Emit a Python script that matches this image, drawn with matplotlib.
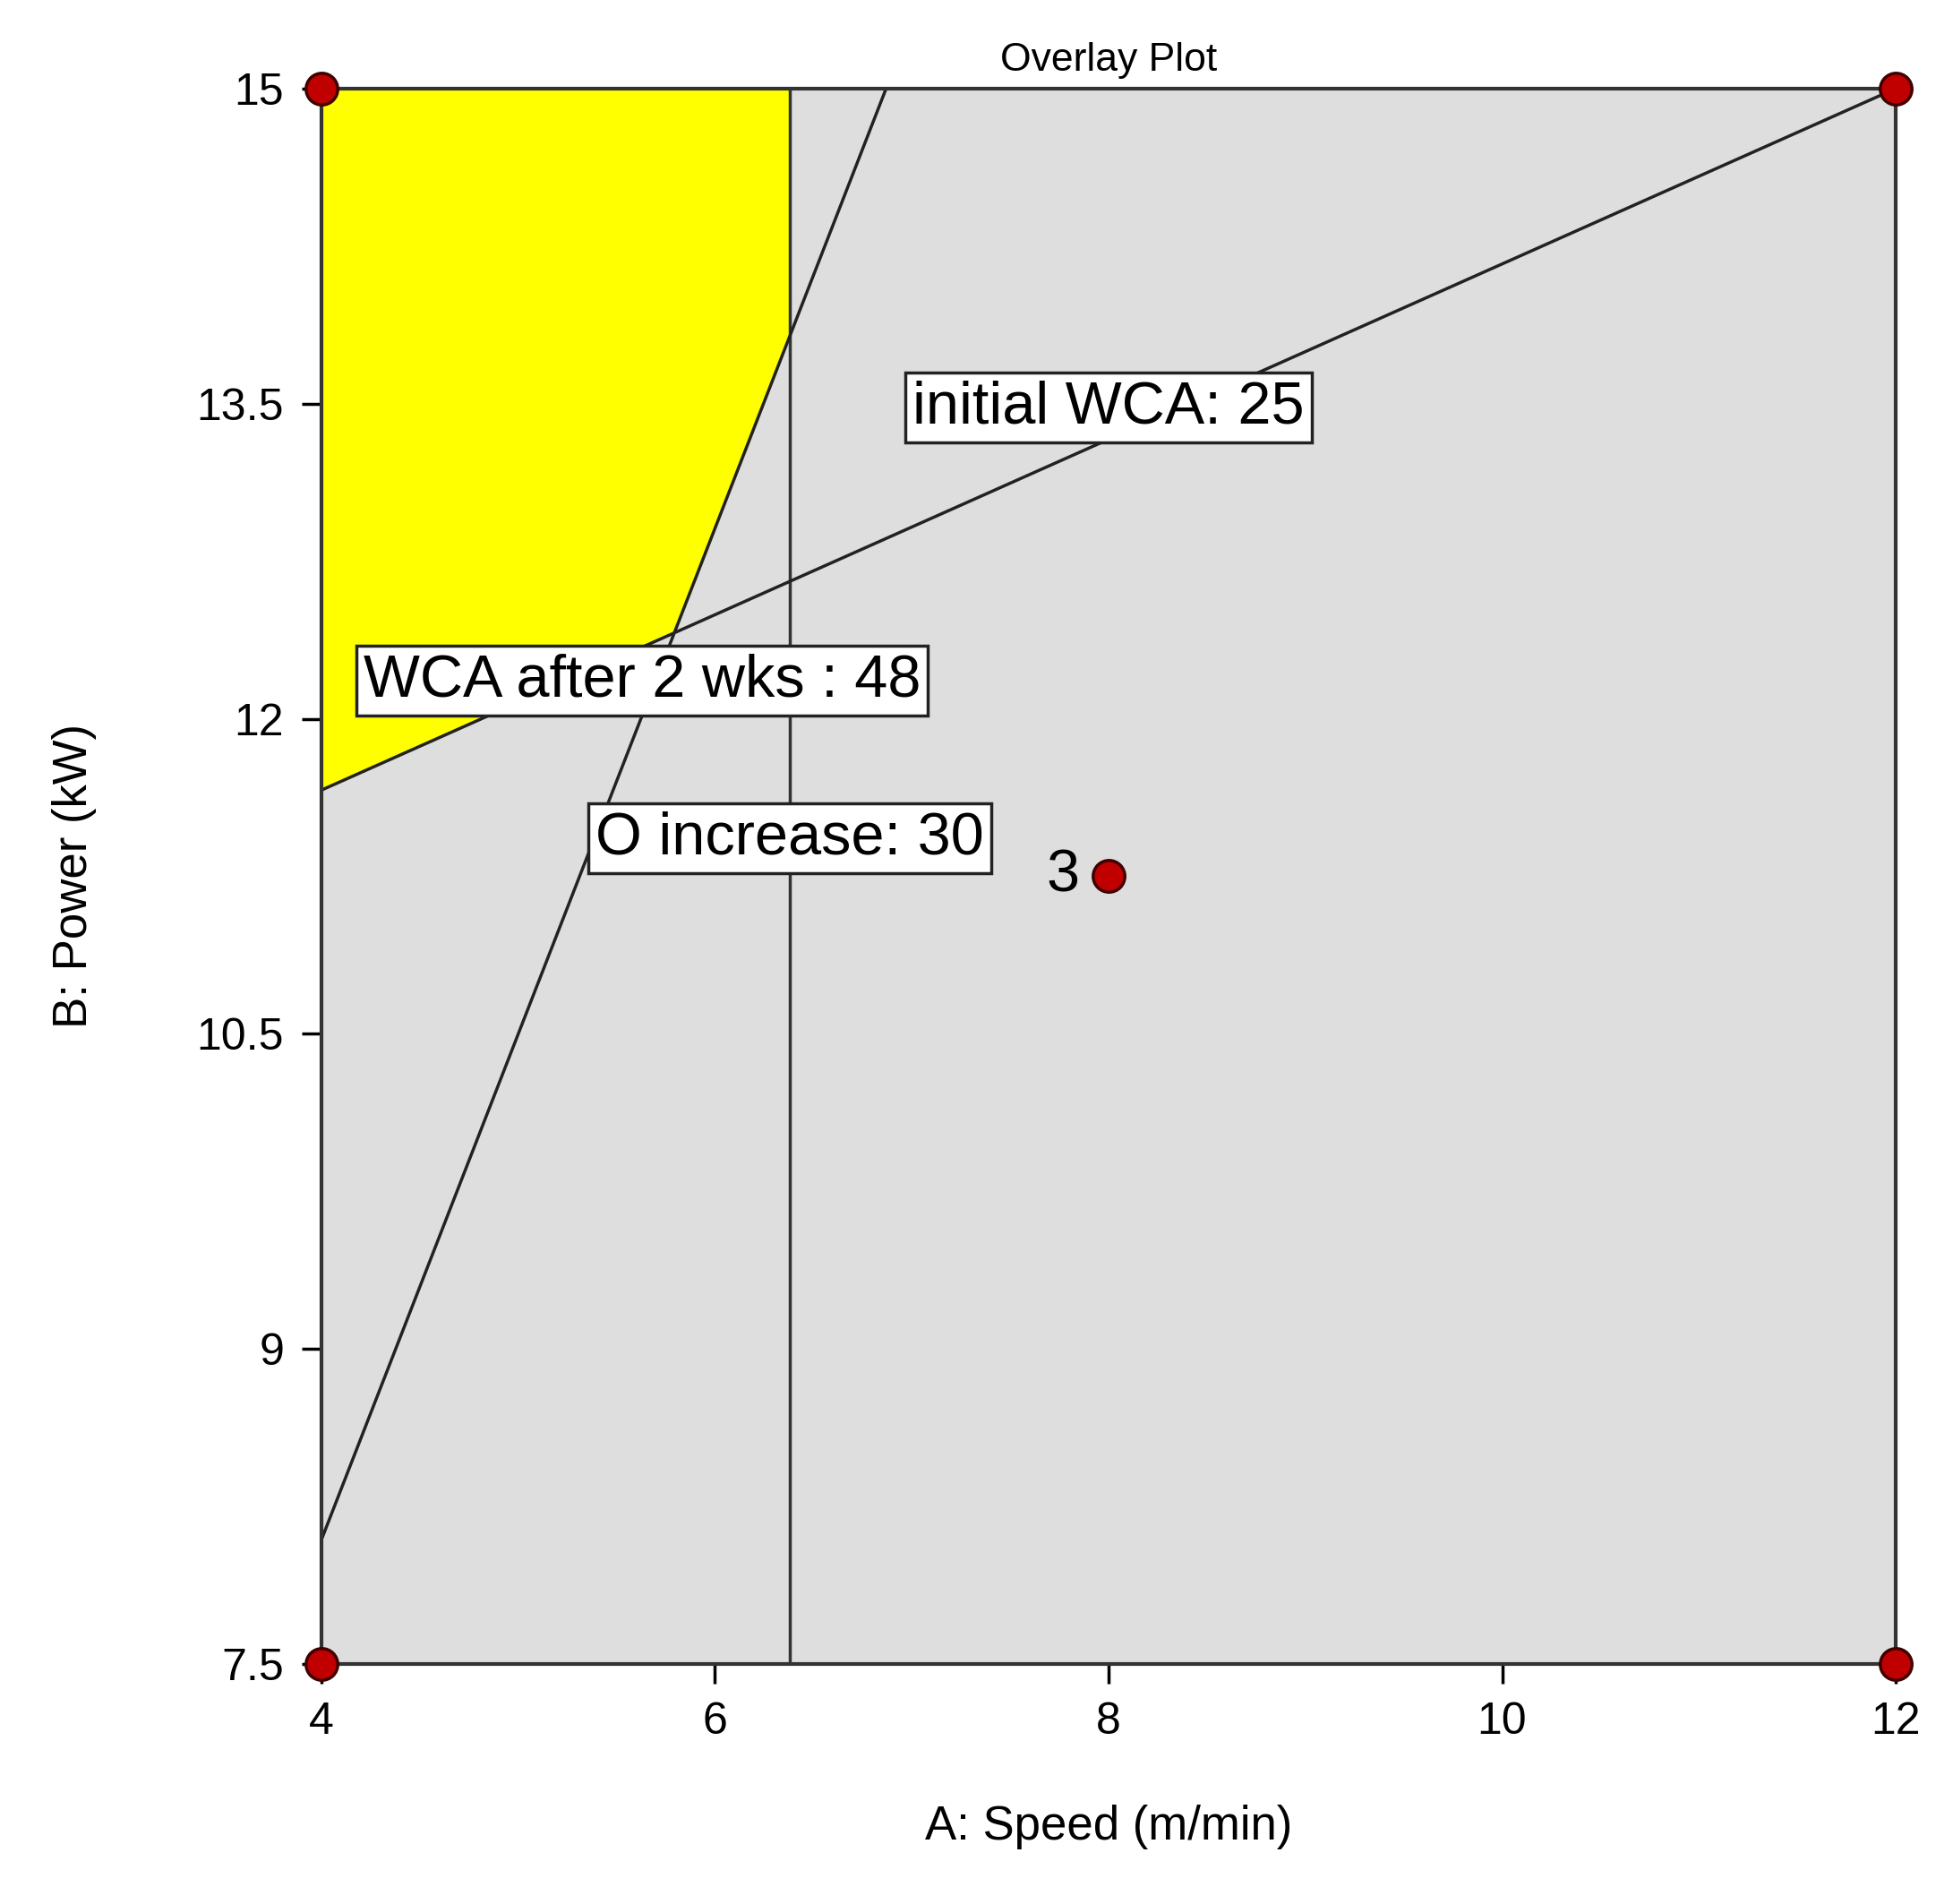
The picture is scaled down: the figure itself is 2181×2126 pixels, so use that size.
import matplotlib
matplotlib.use("Agg")
import matplotlib.pyplot as plt
import numpy as np

plt.rcParams['font.family'] = ['Liberation Sans', 'DejaVu Sans']

xlim = [4, 12]
ylim = [7.5, 15]
xticks = [4, 6, 8, 10, 12]
yticks = [7.5, 9, 10.5, 12, 13.5, 15]
ytick_labels = ["7.5", "9", "10.5", "12", "13.5", "15"]
vline_x = 6.38
steep_line = ([4, 6.87], [8.09, 15])
shallow_line = ([4, 12], [11.66, 15])
corner_x = [4, 4, 12, 12]
corner_y = [7.5, 15, 7.5, 15]
design_pt = (8, 11.25)
labels = [("initial WCA: 25", 8.0, 13.48), ("WCA after 2 wks : 48", 5.63, 12.18), ("O increase: 30", 6.38, 11.43)]

fig = plt.figure(figsize=(21.81, 21.26), dpi=100)
ax = fig.add_axes([0.1645, 0.126, 0.8062, 0.8275])
ax.set_facecolor("#dedede")
ax.set_xlim(xlim); ax.set_ylim(ylim)

def steep(x):
    (x0, x1), (y0, y1) = steep_line
    return y0 + (x - x0) * (y1 - y0) / (x1 - x0)
def shallow(x):
    (x0, x1), (y0, y1) = shallow_line
    return y0 + (x - x0) * (y1 - y0) / (x1 - x0)
xs = np.linspace(4, vline_x, 300)
lower = np.maximum(steep(xs), shallow(xs))
ax.fill_between(xs, lower, 15, color="yellow", zorder=1)

ax.axvline(vline_x, color="#333333", lw=2.5, zorder=2)
ax.plot(*steep_line, color="#222222", lw=2.5, zorder=2)
ax.plot(shallow_line[0], shallow_line[1], color="#222222", lw=2.5, zorder=2)

for t, x, y in labels:
    ax.text(x, y, t, fontsize=48, ha="center", va="center", zorder=4,
            bbox=dict(boxstyle="square,pad=0.12", fc="white", ec="#222222", lw=2.5))

ax.scatter(corner_x, corner_y, s=650, c="#c00000", edgecolors="#400000", linewidths=2.5, zorder=5, clip_on=False)
ax.scatter([design_pt[0]], [design_pt[1]], s=650, c="#c00000", edgecolors="#400000", linewidths=2.5, zorder=5)
ax.text(design_pt[0] - 0.15, design_pt[1], "3", fontsize=48, ha="right", va="center", zorder=5)

ax.set_xticks(xticks)
ax.set_yticks(yticks); ax.set_yticklabels(ytick_labels)
ax.tick_params(labelsize=36, length=16, width=2.5, pad=14)
for s in ax.spines.values():
    s.set_linewidth(3); s.set_color("#333333")
ax.set_xlabel("A: Speed (m/min)", fontsize=38, labelpad=50)
ax.set_ylabel("B: Power (kW)", fontsize=38, labelpad=80)
ax.set_title("Overlay Plot", fontsize=32, pad=14)
fig.savefig("out.png", dpi=100)
